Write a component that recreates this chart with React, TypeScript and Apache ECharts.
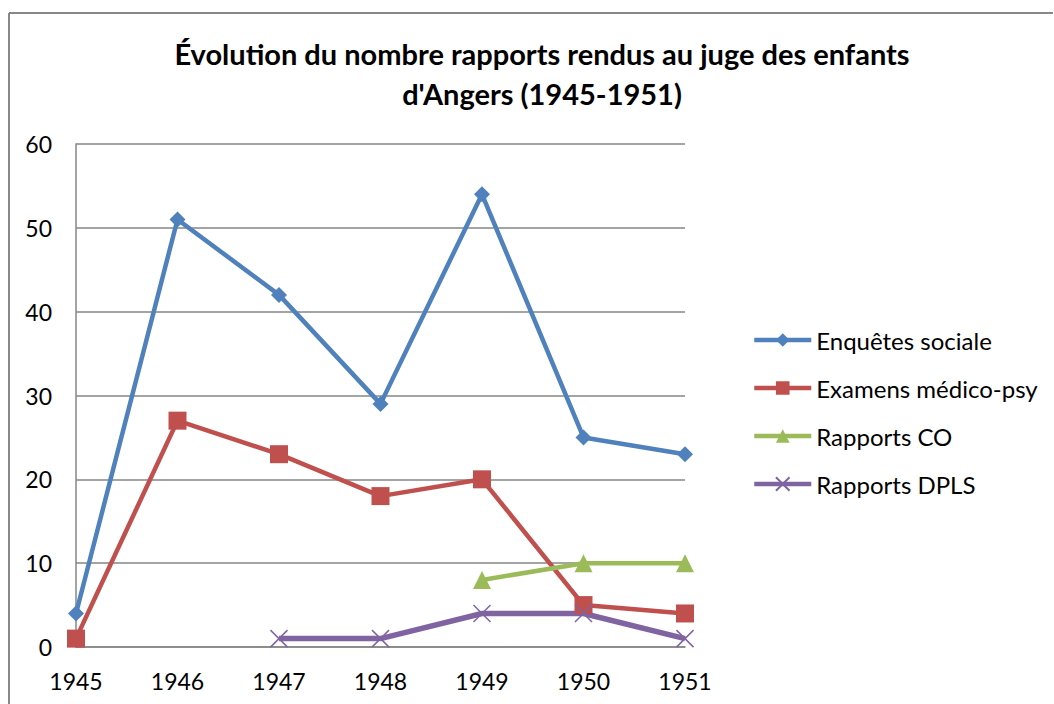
import React, { useEffect, useRef } from "react";
import * as echarts from "echarts";

const years = ["1945", "1946", "1947", "1948", "1949", "1950", "1951"];
const enquetes = [4, 51, 42, 29, 54, 25, 23];
const examens = [1, 27, 23, 18, 20, 5, 4];
const rapportsCO = [null, null, null, null, 8, 10, 10];
const rapportsDPLS = [null, null, 1, 1, 4, 4, 1];
const seriesNames = ["Enquêtes sociale", "Examens médico-psy", "Rapports CO", "Rapports DPLS"];
const colors = ["#4F81BD", "#C0504D", "#9BBB59", "#8064A2"];
const titleText = "Évolution du nombre rapports rendus au juge des enfants\nd'Angers (1945-1951)";

const FONT = "Lato, 'Open Sans', sans-serif";

export default function App() {
  const ref = useRef<HTMLDivElement>(null);
  useEffect(() => {
    document.body.style.margin = "0";
    const chart = echarts.init(ref.current!, null, { renderer: "svg" });
    const cross = "path://M0,0L10,10M10,0L0,10";
    const datas = [enquetes, examens, rapportsCO, rapportsDPLS];
    const symbols = ["diamond", "rect", "triangle", cross];
    const sizes = [16, 18, 18, 17];
    chart.setOption({
      animation: false,
      backgroundColor: "#ffffff",
      textStyle: { fontFamily: FONT },
      title: {
        text: titleText,
        left: 537,
        textAlign: "center",
        top: 28,
        textStyle: { fontSize: 29, fontWeight: "bold", color: "#000", lineHeight: 40, fontFamily: FONT },
      },
      graphic: [
        { type: "line", shape: { x1: 9, y1: 13, x2: 1053, y2: 13 }, style: { stroke: "#888", lineWidth: 2 } },
        { type: "line", shape: { x1: 9, y1: 13, x2: 9, y2: 704 }, style: { stroke: "#888", lineWidth: 2 } },
      ],
      legend: {
        orient: "vertical",
        left: 752,
        top: 328,
        padding: 0,
        itemWidth: 57,
        itemHeight: 17,
        itemGap: 24,
        lineStyle: { width: 4.5 },
        textStyle: { fontSize: 24, color: "#000", fontFamily: FONT },
        data: seriesNames,
      },
      grid: { left: 76, right: 369, top: 144, bottom: 57, containLabel: false },
      xAxis: {
        type: "category",
        data: years,
        boundaryGap: false,
        axisLine: { show: true, lineStyle: { color: "#868686", width: 1.5 } },
        axisTick: { show: false },
        axisLabel: { fontSize: 23, color: "#000", margin: 22, fontFamily: FONT },
      },
      yAxis: {
        type: "value",
        min: 0,
        max: 60,
        interval: 10,
        axisLine: { show: true, lineStyle: { color: "#868686", width: 1.5 } },
        axisTick: { show: false },
        axisLabel: { fontSize: 23, color: "#000", margin: 24, fontFamily: FONT },
        splitLine: { show: true, lineStyle: { color: "#868686", width: 1.5 } },
      },
      series: seriesNames.map((name, i) => ({
        name,
        type: "line",
        data: datas[i],
        symbol: symbols[i],
        symbolSize: sizes[i],
        showSymbol: true,
        connectNulls: false,
        lineStyle: { color: colors[i], width: i === 3 ? 5.5 : 4.5 },
        itemStyle: {
          color: colors[i],
          borderColor: colors[i],
          borderWidth: i === 3 ? 1.5 : 0,
        },
      })),
    });
    return () => chart.dispose();
  }, []);
  return <div ref={ref} style={{ width: 1054, height: 704 }} />;
}
